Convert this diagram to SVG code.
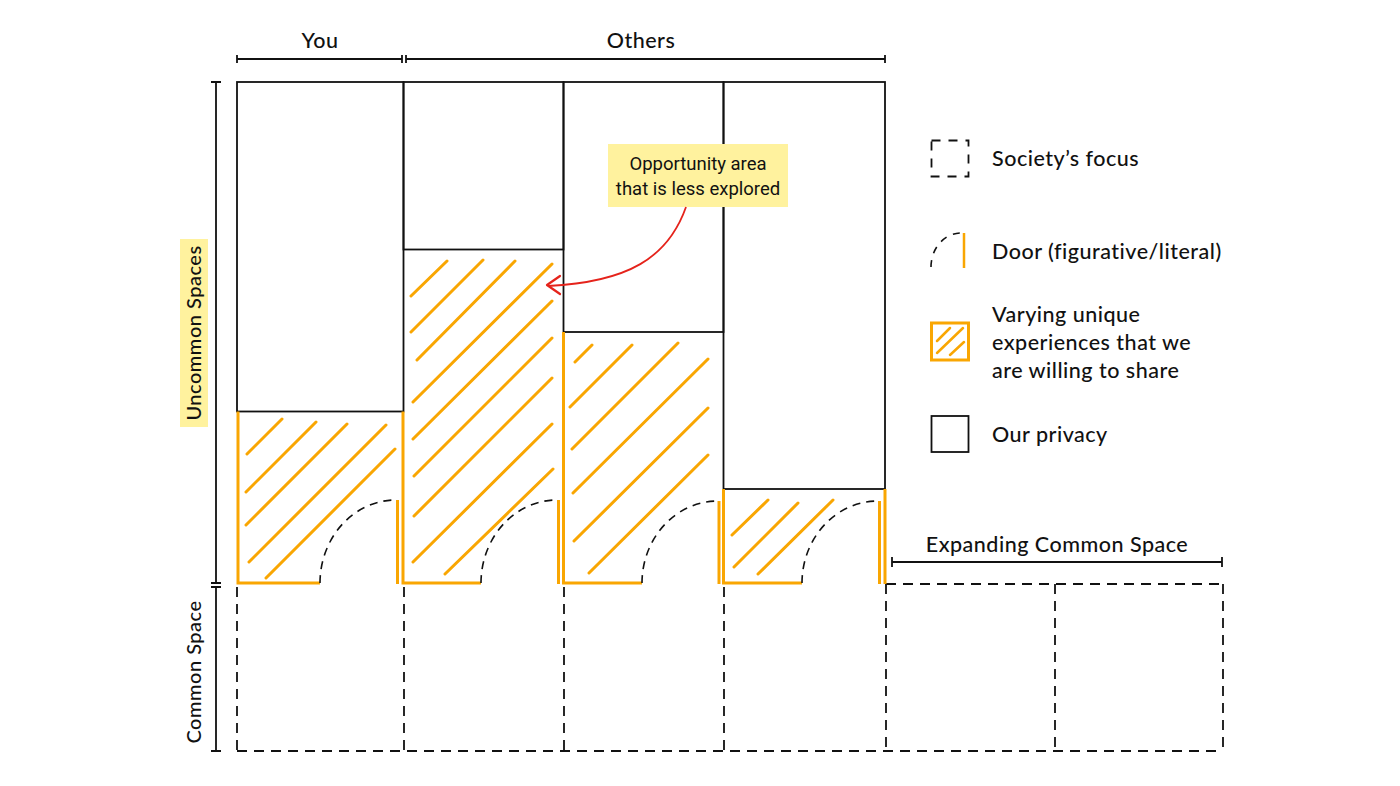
<svg xmlns="http://www.w3.org/2000/svg" width="1400" height="786" viewBox="0 0 1400 786">
<style>
  .t { font-family: Lato, "Noto Sans", sans-serif; font-size: 21.5px; letter-spacing: 0.5px; fill: #111; font-weight: 500; }
  .r { font-size: 20px; }
  .c { font-family: Roboto, "Noto Sans", sans-serif; font-size: 18.5px; fill: #111; }
  .box { fill: none; stroke: #111; stroke-width: 1.8; }
  .br { fill: none; stroke: #111; stroke-width: 1.8; }
  .wall { fill: none; stroke: #F9A602; stroke-width: 3; }
  .h { fill: none; stroke: #F9A602; stroke-width: 3; stroke-linecap: round; }
  .dash { fill: none; stroke: #111; stroke-width: 1.8; stroke-dasharray: 10 7; }
  .arc { fill: none; stroke: #111; stroke-width: 1.6; stroke-dasharray: 8 6; }
  .hl { fill: #FFF29E; }
</style>
<rect width="1400" height="786" fill="#fff"/>

<g id="brackets">
  <path class="br" d="M237,59 H402 M237,55 V63 M402,55 V63"/>
  <path class="br" d="M406,59 H885 M406,55 V63 M885,55 V63"/>
  <text class="t" x="320" y="48" text-anchor="middle">You</text>
  <text class="t" x="641" y="48" text-anchor="middle">Others</text>
  <path class="br" d="M216,82 V583 M211,82 H221 M211,583 H221"/>
  <rect class="hl" x="180" y="239" width="28" height="188"/>
  <text class="t r" transform="translate(201,333) rotate(-90)" text-anchor="middle">Uncommon Spaces</text>
  <path class="br" d="M216,587 V751 M211,587 H221 M211,751 H221"/>
  <text class="t r" transform="translate(201,672) rotate(-90)" text-anchor="middle">Common Space</text>
  <path class="br" d="M892,562 H1222 M892,557 V567 M1222,557 V567"/>
  <text class="t" x="1057" y="552" text-anchor="middle">Expanding Common Space</text>
</g>

<g id="common-space">
  <path class="dash" d="M237,587 V751 M404,587 V751 M564,587 V751 M724,587 V751 M237,751 H1223"/>
  <path class="dash" d="M886,584 H1223 M886,584 V751 M1055,584 V751 M1223,584 V751"/>
</g>

<g id="col-you">
  <rect class="box" x="237" y="82" width="166.5" height="329.5"/>
  <path class="wall" d="M238,411.5 V583 H320"/>
  <path class="arc" d="M320,583 A76,83 0 0 1 396,500"/>
  <path class="wall" d="M397.5,500 V584"/>
  <path class="h" d="M247,454 L282,419 M246,492 L316,422 M246,525 L347,424 M249,562 L386,425 M266,578 L395,449"/>
</g>

<g id="col-other-1">
  <rect class="box" x="403.5" y="82" width="160" height="167.5"/>
  <path class="wall" d="M403,411.5 V583 H481"/>
  <path class="arc" d="M481,583 A76,83 0 0 1 557,500"/>
  <path class="wall" d="M558.5,500 V584"/>
  <path class="h" d="M411,296 L447,261 M411,332 L483,260 M417,360 L515,261 M413,402 L552,264 M413,439 L552,301 M414,476 L552,338 M414,516 L552,378 M413,562 L552,424 M445,574 L553,469"/>
</g>

<g id="col-other-2">
  <rect class="box" x="563.5" y="82" width="160" height="250"/>
  <path class="wall" d="M563.5,332 V583 H642"/>
  <path class="arc" d="M642,583 A76,82 0 0 1 718,501"/>
  <path class="wall" d="M719,501 V584"/>
  <path class="h" d="M575,362 L592,345 M570,407 L632,345 M572,449 L678,343 M573,493 L708,359 M574,541 L708,408 M589,573 L708,455"/>
</g>

<g id="col-other-3">
  <rect class="box" x="723.5" y="82" width="161.5" height="407"/>
  <path class="wall" d="M723.5,489 V583 H802"/>
  <path class="arc" d="M802,583 A76,82 0 0 1 878,501"/>
  <path class="wall" d="M879.5,501 V584 M885,489 V584"/>
  <path class="h" d="M732,535 L768,500 M734,567 L798,503 M758,574 L833,500"/>
</g>

<g id="callout">
  <rect class="hl" x="608" y="144" width="180" height="63"/>
  <text class="c" x="698" y="170" text-anchor="middle">Opportunity area</text>
  <text class="c" x="698" y="195" text-anchor="middle">that is less explored</text>
</g>

<g id="connectors">
  <path d="M686,207 C668,258 628,282 548,286" fill="none" stroke="#E5231B" stroke-width="1.8"/>
  <path d="M560,276 L547,285 L560,294" fill="none" stroke="#E5231B" stroke-width="2.2" stroke-linecap="round" stroke-linejoin="round"/>
</g>

<g id="legend">
  <g id="legend-focus">
    <rect class="dash" x="931.5" y="140.5" width="37" height="36" style="stroke-dasharray:9 8"/>
    <text class="t" x="992" y="166">Society’s focus</text>
  </g>
  <g id="legend-door">
    <path class="arc" d="M931,267 A30,34 0 0 1 961,233" style="stroke-dasharray:7 7"/>
    <path class="wall" d="M964,233 V268" style="stroke-width:2.5"/>
    <text class="t" x="992" y="259">Door (figurative/literal)</text>
  </g>
  <g id="legend-hatch">
    <rect x="931.5" y="323" width="37" height="37" fill="none" stroke="#F9A602" stroke-width="3"/>
    <path class="h" d="M937,341 L950,328 M937,353 L963,328 M950,355 L964,342" style="stroke-width:2.5"/>
    <text class="t" x="992" y="322">Varying unique</text>
    <text class="t" x="992" y="350">experiences that we</text>
    <text class="t" x="992" y="378">are willing to share</text>
  </g>
  <g id="legend-privacy">
    <rect class="box" x="931.5" y="416" width="37" height="36"/>
    <text class="t" x="992" y="442">Our privacy</text>
  </g>
</g>
</svg>
